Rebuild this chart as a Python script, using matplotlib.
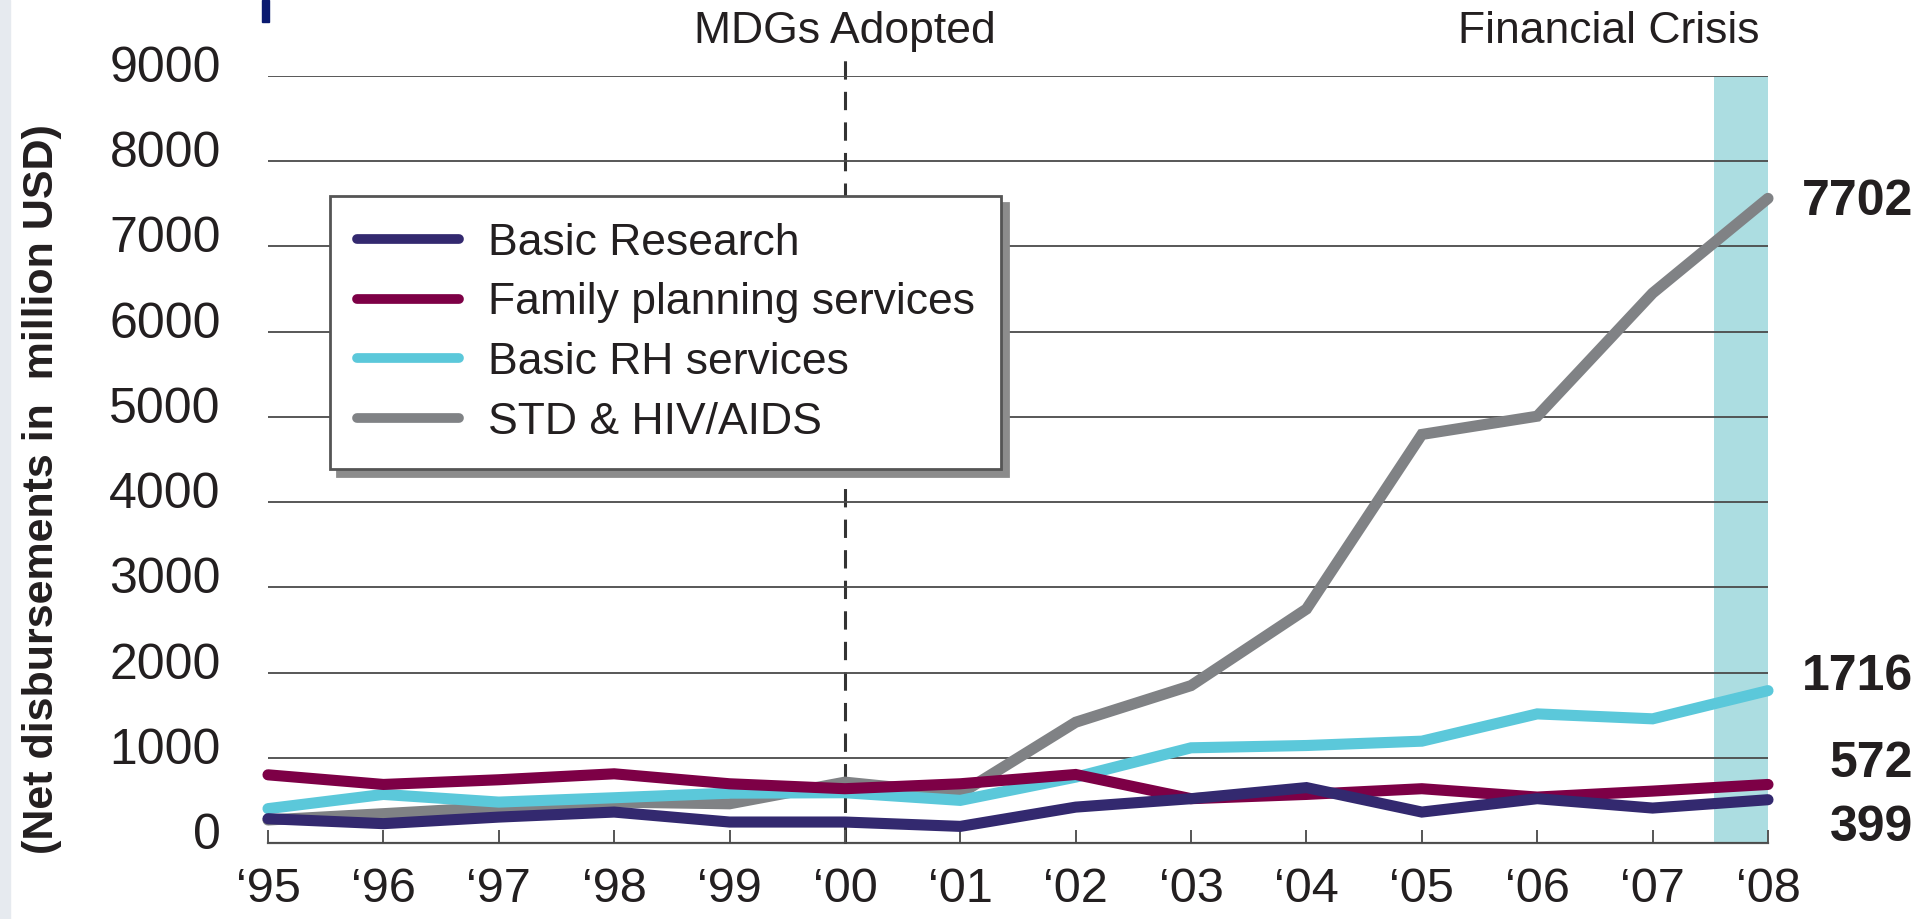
import numpy as np
import matplotlib
matplotlib.use("Agg")
import matplotlib.pyplot as plt
import matplotlib.transforms as mtransforms

# ---------------- data ----------------
years = np.arange(1995, 2009)
year_labels = ["\u201895", "\u201896", "\u201897", "\u201898", "\u201899", "\u201800", "\u201801",
               "\u201802", "\u201803", "\u201804", "\u201805", "\u201806", "\u201807", "\u201808"]

basic_research = [285, 227, 304, 363, 246, 246, 195, 421, 520, 650, 363, 520, 410, 508]
family_planning = [800, 687, 742, 812, 695, 637, 695, 804, 520, 570, 637, 539, 609, 687]
basic_rh = [403, 570, 480, 531, 585, 590, 500, 773, 1117, 1144, 1195, 1515, 1457, 1788]
std_hiv = [270, 344, 421, 480, 460, 714, 578, 1417, 1847, 2745, 4794, 5008, 6452, 7564]

series_names = ["Basic Research", "Family planning services", "Basic RH services", "STD & HIV/AIDS"]
end_labels = ["399", "572", "1716", "7702"]

mdg_year = 2000
crisis_span = (2007.53, 2008)

colors = ["#33296f", "#7d0046", "#5bc8da", "#808285"]

plt.rcParams["font.family"] = ["Liberation Sans", "DejaVu Sans"]
txt_col = "#231f20"

# ---------------- figure ----------------
W, H = 1930, 919
fig = plt.figure(figsize=(W / 100, H / 100), dpi=100)
ax = fig.add_axes([268 / W, 1 - 843 / H, 1500 / W, (843 - 76) / H])

# slide leftovers: pale left edge, cut-off title stroke
fig.patches.append(plt.Rectangle((0, 0), 10 / W, 1, transform=fig.transFigure,
                                 color="#e6eaef", zorder=0))
fig.patches.append(plt.Rectangle((262 / W, 1 - 22 / H), 7 / W, 22 / H,
                                 transform=fig.transFigure, color="#0a1a70", zorder=0))

ax.axvspan(crisis_span[0], crisis_span[1], color="#acdde1", zorder=1, lw=0)

# gray at the bottom, navy on top
all_series = [basic_research, family_planning, basic_rh, std_hiv]
zorders = [6, 5, 4, 3]
handles = []
for vals, name, c, z in zip(all_series, series_names, colors, zorders):
    ln, = ax.plot(years, vals, color=c, lw=8, zorder=z, label=name,
                  solid_capstyle="round", solid_joinstyle="miter", clip_on=False)
    handles.append(ln)

ax.set_xlim(1995, 2008)
ax.set_ylim(0, 9000)

ax.set_yticks(np.arange(0, 9001, 1000))
ax.yaxis.grid(True, color="#4a4a4a", lw=1.3, zorder=2)
ax.set_axisbelow(False)
for s in ["left", "right", "top"]:
    ax.spines[s].set_visible(False)
ax.spines["bottom"].set_color("#555555")
ax.spines["bottom"].set_linewidth(1.6)
ax.spines["bottom"].set_zorder(2)

ax.set_xticks(years)
ax.set_xticklabels(year_labels)
ax.tick_params(axis="x", direction="in", length=9.5, width=1.4, color="#555555",
               labelsize=35, pad=17, labelcolor=txt_col)
ax.tick_params(axis="y", length=0, labelsize=36, pad=34, labelcolor=txt_col)
shift = mtransforms.ScaledTranslation(0, 12 / 100, fig.dpi_scale_trans)
for lab in ax.get_yticklabels():
    lab.set_transform(lab.get_transform() + shift)

# MDG marker and top captions
ax.axvline(mdg_year, ymin=0, ymax=9230 / 9000, color="#333333", lw=2.2,
           ls=(0, (6, 4)), zorder=2.5, clip_on=False)
top_tr = mtransforms.blended_transform_factory(ax.transData, ax.transAxes)
ax.text(mdg_year, 1.058, "MDGs Adopted", transform=top_tr, ha="center", va="center",
        fontsize=32, color=txt_col)
ax.text(crisis_span[1] - 0.07, 1.058, "Financial Crisis", transform=top_tr, ha="right",
        va="center", fontsize=32, color=txt_col)

# values at the end of each line
label_offsets = [-28, 20, 14, -4]
for vals, txt, dy in zip(all_series, end_labels, label_offsets):
    ax.annotate(txt, xy=(years[-1], vals[-1]), xytext=(145, dy), textcoords="offset pixels",
                ha="right", va="center", fontsize=36, fontweight="bold",
                color=txt_col, annotation_clip=False)

fig.text(42 / W, 1 - 489 / H, "(Net disbursements in  million USD)", rotation=90,
         ha="center", va="center", fontsize=31, fontweight="bold", color=txt_col)

# legend
leg = ax.legend(handles=handles, labels=series_names, loc="upper left",
                bbox_to_anchor=(330 / W, 1 - 196 / H), bbox_transform=fig.transFigure,
                borderaxespad=0, fontsize=32, frameon=True, fancybox=False, framealpha=1,
                edgecolor="#555555", borderpad=0.6, labelspacing=0.42,
                handlelength=2.3, handletextpad=0.65,
                shadow={"ox": 5, "oy": -5, "color": "#8c8c8c", "alpha": 1})
leg.get_frame().set_linewidth(2)
leg.set_zorder(10)
for t in leg.get_texts():
    t.set_color(txt_col)
for h in leg.legend_handles:
    h.set_linewidth(7)

fig.savefig("out.png", dpi=100)
